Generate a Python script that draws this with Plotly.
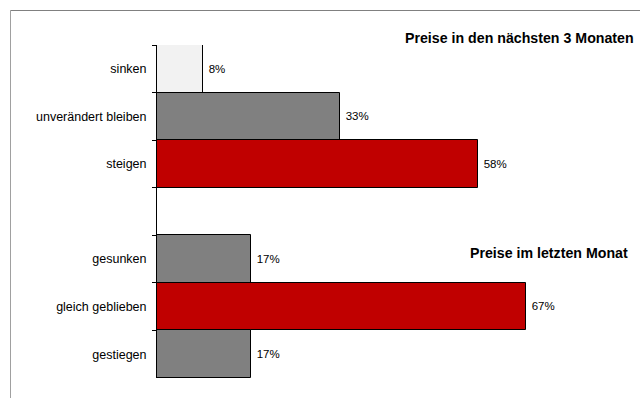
import plotly.graph_objects as go

# Data
next3_categories = ["sinken", "unverändert bleiben", "steigen"]
next3_values = [8.3, 33.3, 58.3]
next3_colors = ["#F2F2F2", "#808080", "#C00000"]

last_categories = ["gesunken", "gleich geblieben", "gestiegen"]
last_values = [17, 67, 17]
last_colors = ["#808080", "#C00000", "#808080"]

gap_category = " "
category_order = next3_categories + [gap_category] + last_categories

title_next3 = "Preise in den nächsten 3 Monaten"
title_last = "Preise im letzten Monat"

FONT = "Liberation Sans, Arial, sans-serif"

def pct(v):
    return [f" {round(x):d}%" for x in v]

fig = go.Figure()
for cats, vals, cols in [(next3_categories, next3_values, next3_colors),
                         (last_categories, last_values, last_colors)]:
    fig.add_trace(go.Bar(
        y=cats, x=vals, orientation="h", width=1,
        marker=dict(color=cols, line=dict(color="#000000", width=1)),
        text=pct(vals), textposition="outside", cliponaxis=False,
        textfont=dict(family=FONT, size=11.5, color="#000000"),
        showlegend=False, hoverinfo="skip",
    ))

W, H = 640, 398
L, T, R, B = 157, 45, 0, 20
pw, ph = W - L - R, H - T - B
px_per_unit = 5.51
xmax = pw / px_per_unit

fig.update_layout(
    width=W, height=H,
    margin=dict(l=L, t=T, r=R, b=B, pad=0),
    paper_bgcolor="white", plot_bgcolor="white",
    bargap=0,
    font=dict(family=FONT, size=12, color="#000000"),
    xaxis=dict(range=[0, xmax], visible=False, showgrid=False, zeroline=False),
    yaxis=dict(type="category", categoryorder="array", categoryarray=category_order,
               autorange="reversed", showline=True, linecolor="#000000", linewidth=1,
               ticks="outside", tickson="boundaries", ticklen=4, tickcolor="#000000",
               ticklabelstandoff=7, automargin=False,
               showgrid=False, zeroline=False,
               tickfont=dict(family=FONT, size=12.5, color="#000000")),
)

def xp(px):
    return (px - L) / pw

def yp(py):
    return 1 - (py - T) / ph

# outer frame (left and top edges)
fig.add_shape(type="line", xref="paper", yref="paper", x0=xp(10.5), x1=xp(10.5), y0=yp(10.5), y1=yp(400),
              line=dict(color="#A0A0A0", width=1))
fig.add_shape(type="line", xref="paper", yref="paper", x0=xp(10.5), x1=xp(645), y0=yp(10.5), y1=yp(10.5),
              line=dict(color="#808080", width=1))

fig.add_annotation(text=f"<b>{title_next3}</b>", xref="paper", yref="paper",
                   x=xp(636), y=yp(38), xanchor="right", yanchor="middle", showarrow=False,
                   font=dict(family=FONT, size=14.2, color="#000000"))
fig.add_annotation(text=f"<b>{title_last}</b>", xref="paper", yref="paper",
                   x=xp(630), y=yp(253), xanchor="right", yanchor="middle", showarrow=False,
                   font=dict(family=FONT, size=14.2, color="#000000"))

fig.write_html("out.html", config={"displayModeBar": False},
               post_script="document.body.style.margin='0';document.body.style.overflow='hidden';")
